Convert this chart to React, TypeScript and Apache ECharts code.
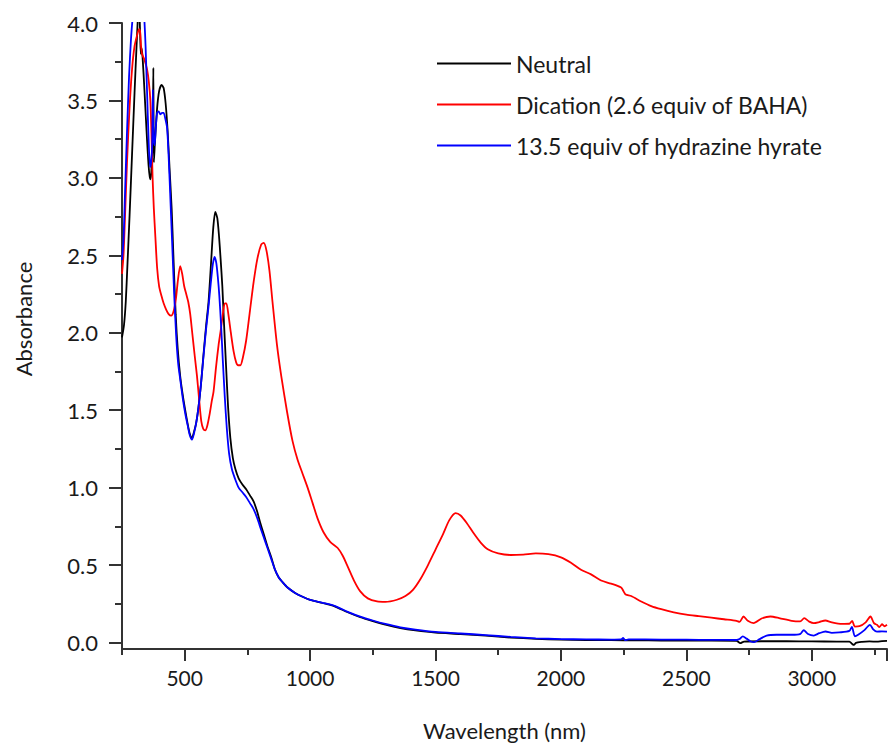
import React, { useEffect, useRef } from "react";
import * as echarts from "echarts";

const seriesNames = [
  "Neutral",
  "Dication (2.6 equiv of BAHA)",
  "13.5 equiv of hydrazine hyrate",
];
const seriesColors = ["#000000", "#ff0000", "#0000ff"];

const yMajorTicks = [0, 0.5, 1, 1.5, 2, 2.5, 3, 3.5, 4];
const yMinorTicks = [0.25, 0.75, 1.25, 1.75, 2.25, 2.75, 3.25, 3.75];

const neutral = [
  [250, 1.97], [258, 2.05], [265, 2.2], [272, 2.45], [280, 2.75], [290, 3.15], [300, 3.55], [308, 3.85],
  [314, 4.05], [318, 4.1], [322, 3.95], [325, 3.8], [328, 3.84], [332, 3.78], [340, 3.55], [348, 3.3],
  [356, 3.08], [362, 2.99], [366, 3.02], [370, 3.15], [373, 3.3], [375, 3.71], [377, 3.1], [382, 3.25],
  [390, 3.45], [398, 3.56], [408, 3.6], [416, 3.58], [424, 3.48], [432, 3.3], [440, 3.05], [448, 2.8],
  [456, 2.45], [464, 2.12], [472, 1.9], [482, 1.72], [492, 1.6], [502, 1.5], [512, 1.41], [520, 1.35],
  [529, 1.32], [537, 1.36], [546, 1.42], [555, 1.52], [565, 1.67], [575, 1.86], [585, 2.04], [595, 2.2],
  [605, 2.45], [614, 2.68], [622, 2.78], [630, 2.74], [637, 2.62], [643, 2.48], [650, 2.3], [657, 2.05],
  [665, 1.78], [673, 1.52], [682, 1.32], [692, 1.19], [702, 1.12], [715, 1.06], [730, 1.02], [745, 0.99],
  [760, 0.95], [775, 0.91], [788, 0.85], [800, 0.78], [815, 0.7], [830, 0.62], [845, 0.55], [860, 0.47],
  [875, 0.42], [890, 0.39], [910, 0.355], [940, 0.32], [970, 0.295], [1000, 0.275], [1050, 0.255],
  [1100, 0.232], [1150, 0.195], [1200, 0.163], [1250, 0.138], [1300, 0.115], [1360, 0.093], [1420, 0.078],
  [1500, 0.064], [1600, 0.055], [1700, 0.044], [1800, 0.032], [1900, 0.024], [2000, 0.018], [2100, 0.016],
  [2200, 0.015], [2300, 0.014], [2400, 0.013], [2500, 0.012], [2600, 0.012], [2700, 0.011], [2715, -0.004],
  [2730, 0.006], [2800, 0.008], [2900, 0.008], [3000, 0.007], [3100, 0.006], [3150, 0.005], [3160, -0.008],
  [3168, -0.016], [3176, -0.002], [3200, 0.004], [3230, 0.007], [3260, 0.005], [3280, 0.009], [3300, 0.01],
];

const dication = [
  [250, 2.38], [256, 2.5], [262, 2.75], [270, 3.1], [280, 3.45], [290, 3.7], [300, 3.85], [310, 3.92],
  [318, 3.96], [322, 3.95], [326, 3.85], [330, 3.8], [340, 3.76], [350, 3.7], [357, 3.62], [363, 3.5],
  [368, 3.25], [372, 3.0], [377, 2.8], [383, 2.62], [390, 2.42], [398, 2.3], [407, 2.24], [416, 2.19],
  [426, 2.15], [436, 2.12], [446, 2.11], [456, 2.14], [465, 2.22], [473, 2.34], [482, 2.43], [490, 2.38],
  [498, 2.3], [506, 2.25], [514, 2.2], [522, 2.12], [530, 2.0], [540, 1.85], [549, 1.72], [558, 1.56],
  [566, 1.43], [574, 1.38], [582, 1.37], [590, 1.4], [600, 1.48], [608, 1.56], [615, 1.62], [625, 1.78],
  [635, 1.92], [644, 2.02], [652, 2.12], [660, 2.19], [666, 2.19], [674, 2.12], [684, 2.0], [695, 1.88],
  [705, 1.81], [713, 1.79], [722, 1.79], [732, 1.84], [745, 1.95], [760, 2.14], [775, 2.33], [790, 2.48],
  [805, 2.57], [815, 2.58], [826, 2.53], [838, 2.4], [850, 2.2], [868, 1.92], [885, 1.72], [908, 1.49],
  [930, 1.3], [950, 1.18], [970, 1.09], [990, 1.0], [1010, 0.9], [1030, 0.8], [1054, 0.71], [1080, 0.65],
  [1110, 0.61], [1130, 0.56], [1150, 0.49], [1175, 0.4], [1200, 0.33], [1230, 0.285], [1267, 0.265],
  [1300, 0.262], [1346, 0.276], [1380, 0.3], [1410, 0.34], [1440, 0.41], [1470, 0.5], [1500, 0.6],
  [1530, 0.7], [1555, 0.79], [1580, 0.835], [1600, 0.82], [1625, 0.77], [1650, 0.71], [1680, 0.645],
  [1710, 0.6], [1750, 0.575], [1800, 0.565], [1850, 0.568], [1900, 0.575], [1950, 0.57], [2000, 0.55],
  [2040, 0.515], [2080, 0.47], [2120, 0.44], [2160, 0.4], [2200, 0.38], [2240, 0.355], [2250, 0.33],
  [2258, 0.31], [2280, 0.3], [2320, 0.265], [2360, 0.235], [2400, 0.215], [2450, 0.195], [2500, 0.18],
  [2550, 0.17], [2600, 0.16], [2650, 0.15], [2700, 0.14], [2712, 0.133], [2728, 0.168], [2745, 0.14],
  [2768, 0.125], [2800, 0.155], [2835, 0.168], [2870, 0.158], [2920, 0.14], [2954, 0.136], [2970, 0.157],
  [2990, 0.135], [3008, 0.125], [3030, 0.132], [3054, 0.142], [3080, 0.13], [3120, 0.12], [3150, 0.121],
  [3161, 0.14], [3172, 0.103], [3190, 0.105], [3215, 0.13], [3234, 0.168], [3248, 0.125], [3260, 0.114],
  [3270, 0.1], [3280, 0.118], [3290, 0.105], [3300, 0.114],
];

const hydrazine = [
  [250, 2.47], [256, 2.6], [262, 2.9], [270, 3.3], [278, 3.65], [286, 3.9], [293, 4.05], [300, 4.2],
  [310, 4.3], [320, 4.3], [330, 4.2], [338, 4.05], [344, 3.85], [350, 3.55], [356, 3.25], [362, 3.07],
  [366, 3.1], [370, 3.2], [373, 3.57], [376, 3.25], [380, 3.21], [385, 3.33], [390, 3.42], [396, 3.43],
  [403, 3.41], [410, 3.42], [416, 3.42], [423, 3.38], [430, 3.32], [437, 3.1], [443, 2.86], [450, 2.58],
  [458, 2.25], [466, 1.98], [474, 1.8], [482, 1.7], [492, 1.58], [502, 1.48], [512, 1.4], [520, 1.34],
  [529, 1.31], [537, 1.35], [546, 1.42], [555, 1.52], [565, 1.67], [575, 1.85], [585, 2.02], [595, 2.17],
  [604, 2.32], [612, 2.44], [619, 2.49], [626, 2.45], [632, 2.36], [638, 2.24], [645, 2.05], [652, 1.82],
  [660, 1.58], [668, 1.38], [677, 1.22], [688, 1.12], [700, 1.06], [715, 1.0], [730, 0.97], [745, 0.94],
  [760, 0.9], [775, 0.86], [790, 0.8], [800, 0.75], [815, 0.68], [830, 0.61], [845, 0.54], [860, 0.47],
  [875, 0.42], [890, 0.39], [910, 0.355], [940, 0.32], [970, 0.295], [1000, 0.275], [1050, 0.256],
  [1100, 0.235], [1150, 0.198], [1200, 0.167], [1250, 0.142], [1300, 0.12], [1360, 0.098], [1420, 0.083],
  [1500, 0.068], [1600, 0.058], [1700, 0.048], [1800, 0.036], [1900, 0.027], [2000, 0.022], [2100, 0.02],
  [2200, 0.019], [2240, 0.02], [2248, 0.03], [2256, 0.015], [2270, 0.02], [2400, 0.019], [2500, 0.018],
  [2600, 0.017], [2700, 0.016], [2712, 0.022], [2725, 0.04], [2740, 0.025], [2755, 0.008], [2770, 0.002],
  [2790, 0.02], [2820, 0.045], [2860, 0.05], [2920, 0.05], [2955, 0.056], [2968, 0.08], [2985, 0.055],
  [3008, 0.045], [3030, 0.06], [3055, 0.071], [3080, 0.062], [3110, 0.065], [3150, 0.075], [3160, 0.1],
  [3172, 0.04], [3185, 0.05], [3210, 0.08], [3232, 0.114], [3245, 0.085], [3260, 0.07], [3280, 0.072],
  [3300, 0.07],
];

const FONT = "Lato";
const AXIS_COLOR = "#333333";
const TEXT_COLOR = "#1a1a1a";

const X_MIN = 250;
const X_MAX = 3300;
const GRID_LEFT = 122;
const GRID_RIGHT = 3;
const CHART_W = 890;

export default function App() {
  const ref = useRef<HTMLDivElement>(null);

  useEffect(() => {
    if (!ref.current) return;
    const chart = echarts.init(ref.current, undefined, { renderer: "svg" });
    const pxPerNm = (CHART_W - GRID_LEFT - GRID_RIGHT) / (X_MAX - X_MIN);
    // second grid only carries the long major ticks, starting at 500 nm
    const majorGridLeft = GRID_LEFT + (500 - X_MIN) * pxPerNm;
    const yBase = {
      type: "value",
      min: -0.042,
      max: 4.0,
      gridIndex: 0,
      position: "left",
      splitLine: { show: false },
    };
    const option = {
      animation: false,
      backgroundColor: "#ffffff",
      grid: [
        { left: GRID_LEFT, right: GRID_RIGHT, top: 23, bottom: 97, containLabel: false },
        { left: majorGridLeft, right: GRID_RIGHT, top: 23, bottom: 97, containLabel: false },
      ],
      legend: {
        orient: "vertical",
        left: 432,
        top: 47,
        itemWidth: 74,
        itemHeight: 2,
        itemGap: 18,
        icon: "rect",
        data: seriesNames,
        textStyle: {
          fontFamily: FONT,
          fontSize: 23,
          color: TEXT_COLOR,
          padding: [0, 0, 0, 0],
        },
      },
      xAxis: [
        {
          type: "value",
          min: X_MIN,
          max: X_MAX,
          interval: 250,
          gridIndex: 0,
          position: "bottom",
          splitLine: { show: false },
          name: "Wavelength (nm)",
          nameLocation: "middle",
          nameGap: 70,
          nameTextStyle: { fontFamily: FONT, fontSize: 22, color: TEXT_COLOR },
          axisLine: { show: true, onZero: false, lineStyle: { color: AXIS_COLOR, width: 2 } },
          axisTick: {
            show: true,
            length: 6,
            lineStyle: { color: AXIS_COLOR, width: 2 },
          },
          axisLabel: {
            show: true,
            margin: 18,
            fontFamily: FONT,
            fontSize: 21,
            color: TEXT_COLOR,
            showMaxLabel: false,
            formatter: (v: number) => (v % 500 === 0 ? String(v) : ""),
          },
        },
        {
          type: "value",
          min: 500,
          max: X_MAX,
          interval: 500,
          gridIndex: 1,
          position: "bottom",
          splitLine: { show: false },
          axisLine: { show: false, onZero: false },
          axisTick: {
            show: true,
            length: 12,
            lineStyle: { color: AXIS_COLOR, width: 2 },
          },
          axisLabel: { show: false },
        },
      ],
      yAxis: [
        {
          ...yBase,
          name: "Absorbance",
          nameLocation: "middle",
          nameGap: 88,
          nameTextStyle: {
            fontFamily: FONT,
            fontSize: 22,
            color: TEXT_COLOR,
            padding: [0, 0, 0, 34],
          },
          axisLine: { show: true, lineStyle: { color: AXIS_COLOR, width: 2 } },
          axisTick: {
            show: true,
            length: 13,
            customValues: yMajorTicks,
            lineStyle: { color: AXIS_COLOR, width: 2 },
          },
          axisLabel: {
            show: true,
            customValues: yMajorTicks,
            margin: 24,
            fontFamily: FONT,
            fontSize: 22,
            color: TEXT_COLOR,
            formatter: (v: number) => v.toFixed(1),
          },
        },
        {
          ...yBase,
          axisLine: { show: false },
          axisTick: {
            show: true,
            length: 7,
            customValues: yMinorTicks,
            lineStyle: { color: AXIS_COLOR, width: 2 },
          },
          axisLabel: { show: false },
        },
        {
          ...yBase,
          gridIndex: 1,
          show: false,
        },
      ],
      series: [
        { name: seriesNames[0], data: neutral, color: seriesColors[0] },
        { name: seriesNames[1], data: dication, color: seriesColors[1] },
        { name: seriesNames[2], data: hydrazine, color: seriesColors[2] },
      ].map((s) => ({
        type: "line",
        name: s.name,
        data: s.data,
        xAxisIndex: 0,
        yAxisIndex: 0,
        showSymbol: false,
        symbol: "none",
        smooth: 0.25,
        clip: true,
        itemStyle: { color: s.color },
        lineStyle: { color: s.color, width: 1.8 },
      })),
    };
    chart.setOption(option as any);
    return () => chart.dispose();
  }, []);

  return (
    <div
      ref={ref}
      style={{ position: "fixed", left: 0, top: 0, width: 890, height: 746 }}
    />
  );
}
